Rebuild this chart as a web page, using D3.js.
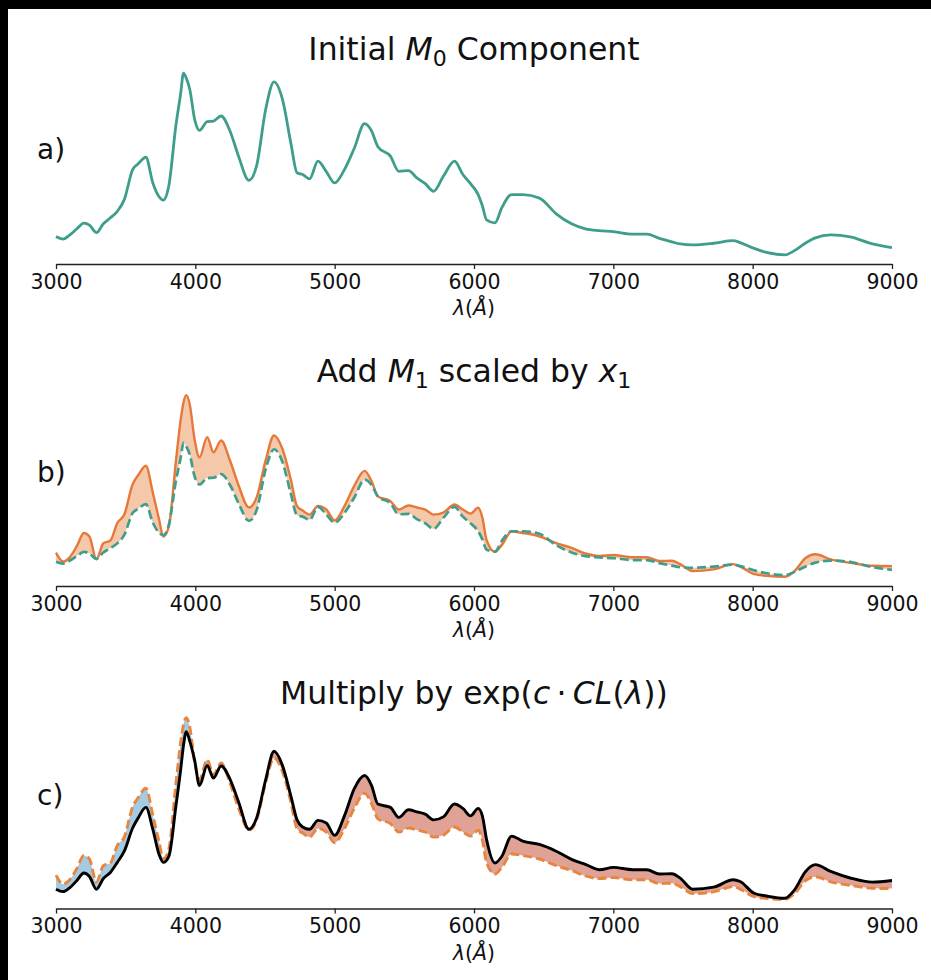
<!DOCTYPE html>
<html>
<head>
<meta charset="utf-8">
<script src="https://cdn.jsdelivr.net/npm/d3@7"></script>
<style>
body { margin: 0; background: #000; }
svg { display: block; font-family: "DejaVu Sans", sans-serif; }
text { white-space: pre; }
</style>
</head>
<body>
<svg id="chart" width="931" height="980"></svg>
<script>
// wavelength grid (Angstrom)
var wavelength = [3000, 3050, 3100, 3150, 3200, 3240, 3290, 3340, 3390, 3440, 3490, 3550, 3590, 3645, 3695,
    3740, 3770, 3810, 3860, 3895, 3915, 3935, 3960, 3995, 4030, 4085, 4130, 4185, 4250, 4310, 4385, 4440,
    4505, 4565, 4625, 4685, 4730, 4770, 4820, 4880, 4940, 5000, 5070, 5140, 5215, 5265, 5310, 5400, 5460,
    5530, 5590, 5650, 5710, 5780, 5860, 5920, 5975, 6030, 6060, 6090, 6150, 6200, 6270, 6350, 6470, 6590,
    6700, 6800, 6900, 7000, 7140, 7240, 7330, 7420, 7480, 7570, 7720, 7860, 7910, 8010, 8100, 8230, 8300,
    8380, 8450, 8560, 8700, 8860, 9000];

// M0 component (arbitrary flux units)
var m0Flux = [24.3, 22.5, 25.5, 29.9, 34.0, 32.5, 27.2, 33.5, 37.8, 42.5, 50.9, 72.5, 76.7, 81.4, 62.9,
    53.0, 50.5, 61.0, 103.9, 127.5, 142.0, 138.4, 130.4, 108.7, 100.8, 107.1, 107.5, 111.1, 100.0, 82.2, 64.8, 75.4,
    116.0, 135.7, 123.2, 91.9, 70.2, 69.0, 65.8, 78.6, 71.1, 62.9, 72.5, 87.7, 105.6, 100.3, 89.0, 82.2, 71.3,
    71.8, 66.5, 62.4, 56.9, 67.7, 78.6, 69.0, 62.4, 54.5, 46.5, 36.4, 34.2, 45.1, 54.5, 54.5, 52.0, 40.7,
    33.5, 29.9, 28.6, 27.9, 26.0, 26.0, 23.0, 20.5, 19.0, 18.3, 19.5, 21.4, 20.0, 15.8, 12.9, 11.1, 14.2,
    19.7, 23.4, 25.5, 24.1, 19.0, 16.3];

// M0 + x1 * M1
var withM1 = [33.3, 24.5, 29.0, 40.0, 52.7, 49.3, 26.7, 42.7, 45.3, 62.7, 71.0, 101.0, 110.0, 119.3, 92.7,
    66.0, 49.3, 59.3, 123.0, 165.0, 182.0, 189.3, 180.0, 145.0, 127.7, 147.7, 132.7, 144.3, 124.0, 100.0, 78.0, 88.0,
    125.0, 149.3, 136.0, 106.0, 79.3, 75.0, 71.0, 79.5, 76.0, 65.3, 79.3, 99.3, 114.3, 104.0, 89.0, 84.3, 76.0,
    80.0, 78.0, 76.0, 71.0, 73.0, 81.0, 76.0, 72.0, 77.7, 68.0, 46.0, 34.3, 41.0, 54.3, 52.7, 49.3, 42.7,
    38.0, 32.5, 30.0, 31.0, 28.7, 28.7, 25.0, 25.3, 22.0, 15.0, 16.7, 22.0, 19.5, 12.0, 10.3, 9.3, 15.0,
    28.0, 31.7, 26.7, 23.3, 20.3, 20.0];

// (M0 + x1 * M1) * exp(c * CL(lambda))
var withColorLaw = [19.4, 17.0, 21.0, 28.0, 35.4, 32.0, 19.4, 30.0, 36.0, 46.0, 57.0, 80.0, 90.0, 100.4, 78.7,
    53.7, 46.0, 52.0, 101.0, 138.0, 162.0, 175.4, 166.0, 147.0, 122.0, 142.0, 129.4, 141.4, 128.0, 106.0, 78.7, 90.0,
    128.0, 156.0, 142.0, 112.0, 88.0, 81.0, 78.7, 87.5, 85.0, 72.7, 92.0, 118.7, 132.0, 122.0, 103.7, 100.4, 90.4,
    98.0, 96.0, 93.7, 88.0, 91.0, 103.7, 99.4, 92.0, 99.4, 92.0, 68.7, 45.4, 52.0, 72.0, 67.0, 63.7, 57.0,
    49.0, 44.0, 38.7, 41.0, 38.7, 38.7, 34.4, 34.7, 30.4, 19.4, 21.4, 28.7, 27.0, 15.4, 12.7, 10.4, 18.7,
    37.0, 43.7, 37.0, 30.5, 26.4, 28.0];

var tickValues = [3000, 4000, 5000, 6000, 7000, 8000, 9000];
var panelLetters = ["a)", "b)", "c)"];

var teal = "#3f9e8b", orange = "#e5793c";

var rows = wavelength.map(function(w, i) {
    return { w: w, m0: m0Flux[i], m1: withM1[i], cl: withColorLaw[i] };
});

var svg = d3.select("#chart");
svg.append("rect")
    .attr("x", 8).attr("y", 9)
    .attr("width", 923).attr("height", 971)
    .attr("fill", "#fff");

var plotH = 200;
var x = d3.scaleLinear().domain([3000, 9000]).range([56, 892]);

function paddedDomain(keys) {
    var all = [];
    keys.forEach(function(k) { rows.forEach(function(d) { all.push(d[k]); }); });
    var e = d3.extent(all), p = (e[1] - e[0]) * 0.05;
    return [e[0] - p, e[1] + p];
}

// builds a text with italic / subscript pieces, like mathtext
function mathText(g, parts, size, px, py, anchor) {
    var t = g.append("text")
        .attr("x", px).attr("y", py)
        .attr("font-size", size)
        .attr("text-anchor", anchor || "middle")
        .attr("fill", "#111");
    var shift = 0;
    parts.forEach(function(p) {
        var want = p.sub ? size * 0.2 : 0;
        var ts = t.append("tspan").text(p.t);
        if (want !== shift) ts.attr("dy", want - shift);
        shift = want;
        if (p.i) ts.attr("font-style", "italic");
        if (p.sub) ts.attr("font-size", size * 0.7);
    });
    return t;
}

var titles = [
    [{ t: "Initial " }, { t: "M", i: 1 }, { t: "0", sub: 1 }, { t: " Component" }],
    [{ t: "Add " }, { t: "M", i: 1 }, { t: "1", sub: 1 }, { t: " scaled by " }, { t: "x", i: 1 }, { t: "1", sub: 1 }],
    [{ t: "Multiply by exp(" }, { t: "c", i: 1 }, { t: "\u2009\u00b7\u2009" }, { t: "CL", i: 1 }, { t: "(" },
        { t: "\u03bb", i: 1 }, { t: "))" }]
];
var xlabelParts = [{ t: "\u03bb", i: 1 }, { t: "(" }, { t: "\u00c5", i: 1 }, { t: ")" }];

var tops = [64, 386, 708.5];

tops.forEach(function(top, k) {
    var g = svg.append("g");
    var bottom = top + plotH;
    var keys = k === 0 ? ["m0"] : (k === 1 ? ["m0", "m1"] : ["m1", "cl"]);
    var y = d3.scaleLinear().domain(paddedDomain(keys)).range([bottom, top]);

    var line = function(key) {
        return d3.line()
            .x(function(d) { return x(d.w); })
            .y(function(d) { return y(d[key]); })
            .curve(d3.curveMonotoneX);
    };
    var area = function(k0, k1) {
        return d3.area()
            .x(function(d) { return x(d.w); })
            .y0(function(d) { return y(d[k0]); })
            .y1(function(d) { return y(d[k1]); })
            .curve(d3.curveMonotoneX);
    };

    if (k === 0) {
        g.append("path").attr("d", line("m0")(rows))
            .attr("fill", "none").attr("stroke", teal).attr("stroke-width", 2.8);
    } else if (k === 1) {
        g.append("path").attr("d", area("m0", "m1")(rows))
            .attr("fill", "#f5c8aa");
        g.append("path").attr("d", line("m1")(rows))
            .attr("fill", "none").attr("stroke", orange).attr("stroke-width", 2.4);
        g.append("path").attr("d", line("m0")(rows))
            .attr("fill", "none").attr("stroke", teal).attr("stroke-width", 2.7)
            .attr("stroke-dasharray", "9,4");
    } else {
        // clip regions above / below the colour-law curve
        var defs = svg.append("defs");
        defs.append("clipPath").attr("id", "aboveCL")
            .append("path").attr("d", d3.area()
                .x(function(d) { return x(d.w); })
                .y0(top - 20)
                .y1(function(d) { return y(d.cl); })
                .curve(d3.curveMonotoneX)(rows));
        defs.append("clipPath").attr("id", "belowCL")
            .append("path").attr("d", d3.area()
                .x(function(d) { return x(d.w); })
                .y0(bottom + 20)
                .y1(function(d) { return y(d.cl); })
                .curve(d3.curveMonotoneX)(rows));
        g.append("path").attr("d", area("m1", "cl")(rows))
            .attr("fill", "#a5cbe3").attr("clip-path", "url(#aboveCL)");
        g.append("path").attr("d", area("m1", "cl")(rows))
            .attr("fill", "#dfa295").attr("clip-path", "url(#belowCL)");
        g.append("path").attr("d", line("m1")(rows))
            .attr("fill", "none").attr("stroke", "#e8853f").attr("stroke-width", 2.9)
            .attr("stroke-dasharray", "9,4");
        g.append("path").attr("d", line("cl")(rows))
            .attr("fill", "none").attr("stroke", "#000").attr("stroke-width", 2.9);
    }

    // x axis
    var ax = g.append("g")
        .attr("transform", "translate(0," + bottom + ")")
        .call(d3.axisBottom(x).tickValues(tickValues).tickFormat(d3.format("d"))
            .tickSize(5).tickPadding(5).tickSizeOuter(0));
    ax.attr("font-family", null).attr("font-size", 20.5);
    ax.select(".domain").attr("stroke", "#222").attr("stroke-width", 1.3);
    ax.selectAll(".tick line").attr("stroke", "#222").attr("stroke-width", 1.3);
    ax.selectAll(".tick text").attr("fill", "#111");

    mathText(g, xlabelParts, 20.5, 474, bottom + 51);
    mathText(g, titles[k], 31.5, 474, top - 4.5);

    g.append("text")
        .attr("x", 37).attr("y", top + 95 + k * 0.5)
        .attr("font-size", 28)
        .attr("fill", "#111")
        .text(panelLetters[k]);
});
</script>
</body>
</html>
